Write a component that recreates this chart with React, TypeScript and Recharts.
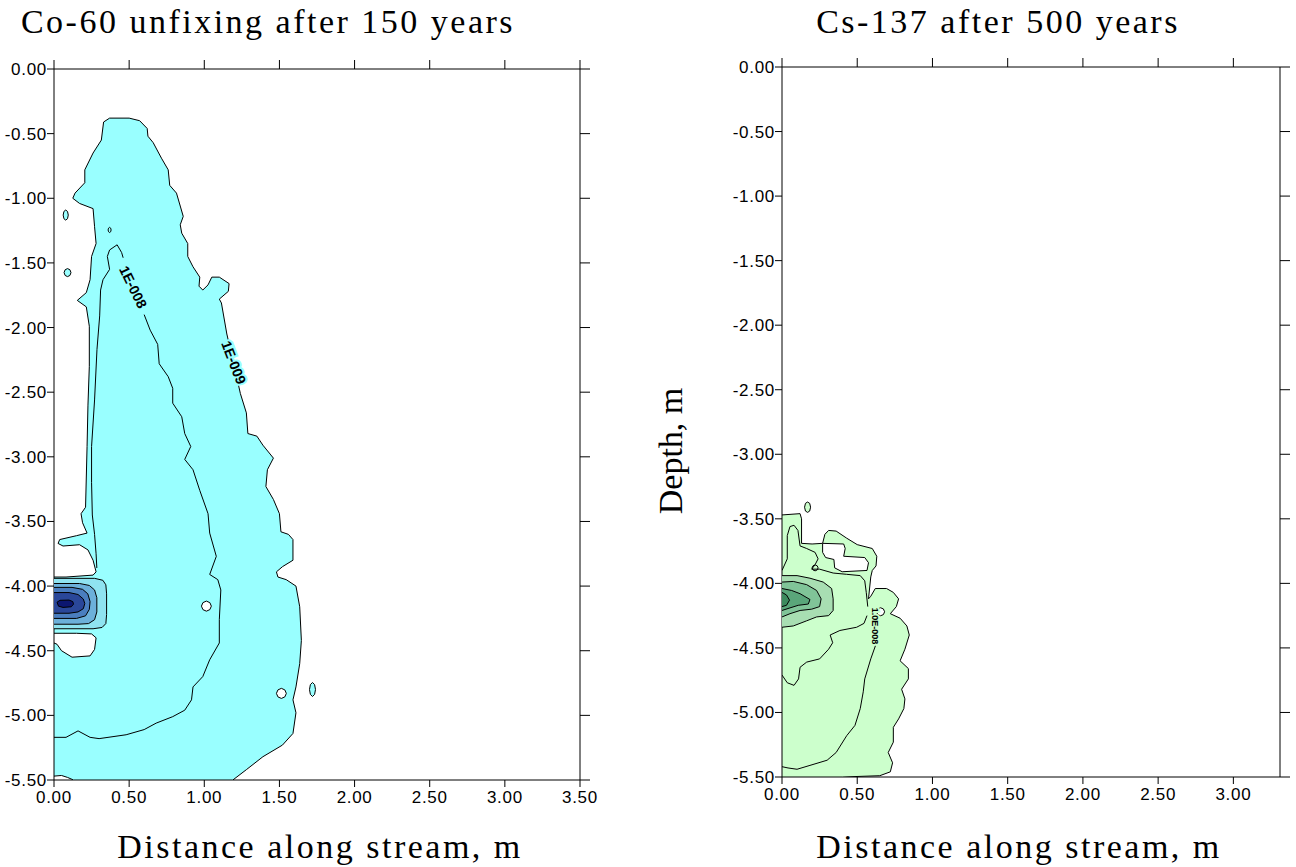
import React from 'react';
import { ScatterChart, Scatter, XAxis, YAxis } from 'recharts';

type Pt = [number, number];

// axes
const coXTicks = [0, 0.5, 1, 1.5, 2, 2.5, 3, 3.5];
const csXTicks = [0, 0.5, 1, 1.5, 2, 2.5, 3];
const depthTicks = [0, -0.5, -1, -1.5, -2, -2.5, -3, -3.5, -4, -4.5, -5, -5.5];

// Co-60: outer 1E-009 region (x = distance, y = depth)
const coPlume: Pt[] = [
  [0.37, -0.38], [0.33, -0.41], [0.315, -0.55], [0.26, -0.65], [0.205, -0.78], [0.205, -0.88],
  [0.14, -0.96], [0.125, -1.0], [0.17, -1.04], [0.26, -1.08], [0.27, -1.22], [0.28, -1.35],
  [0.25, -1.45], [0.24, -1.63], [0.215, -1.73], [0.155, -1.79], [0.215, -1.84], [0.235, -1.99],
  [0.235, -2.3], [0.226, -2.6], [0.22, -2.92], [0.21, -3.39], [0.18, -3.44], [0.19, -3.51],
  [0.22, -3.59], [0.15, -3.61], [0.038, -3.64], [0.027, -3.67], [0.06, -3.69], [0.17, -3.68],
  [0.226, -3.72], [0.26, -3.8], [0.28, -3.89], [0.26, -3.915], [0.08, -3.93], [0, -3.93],
  [0, -4.365], [0.15, -4.365], [0.25, -4.37], [0.28, -4.4], [0.27, -4.49], [0.24, -4.54],
  [0.12, -4.55], [0.05, -4.5], [0.02, -4.45], [0, -4.44],
  [0, -5.47], [0.05, -5.465], [0.09, -5.48], [0.13, -5.5], [1.19, -5.5],
  [1.28, -5.42], [1.39, -5.32], [1.52, -5.23], [1.59, -5.14], [1.61, -4.98], [1.59, -4.88],
  [1.61, -4.78], [1.635, -4.6], [1.646, -4.42], [1.635, -4.16], [1.61, -4.0], [1.545, -3.95],
  [1.49, -3.93], [1.48, -3.89], [1.52, -3.85], [1.59, -3.8], [1.59, -3.64], [1.56, -3.6],
  [1.51, -3.58], [1.5, -3.44], [1.46, -3.33], [1.41, -3.23], [1.42, -3.1], [1.46, -3.01],
  [1.39, -2.91], [1.35, -2.84], [1.29, -2.82], [1.28, -2.66], [1.24, -2.51], [1.2, -2.3],
  [1.15, -2.05], [1.114, -1.81], [1.1, -1.78], [1.16, -1.72], [1.165, -1.66], [1.1, -1.61],
  [1.05, -1.61], [1.025, -1.67], [0.99, -1.71], [0.965, -1.68], [0.97, -1.61], [0.925, -1.53],
  [0.89, -1.45], [0.89, -1.35], [0.85, -1.27], [0.84, -1.205], [0.86, -1.14], [0.84, -1.06],
  [0.815, -0.96], [0.77, -0.9], [0.76, -0.78], [0.715, -0.69], [0.66, -0.57], [0.625, -0.52],
  [0.62, -0.46], [0.57, -0.4], [0.5, -0.38], [0.37, -0.38],
];

// Co-60: 1E-008 contour, split where its label sits
const coLine8a: Pt[] = [
  [0.285, -3.86], [0.28, -3.75], [0.27, -3.6], [0.255, -3.45], [0.25, -3.2], [0.25, -2.92],
  [0.27, -2.56], [0.286, -2.17], [0.304, -1.91], [0.31, -1.71], [0.326, -1.63], [0.37, -1.55],
  [0.355, -1.45], [0.37, -1.4], [0.42, -1.36], [0.45, -1.42], [0.46, -1.46],
];
const coLine8b: Pt[] = [
  [0.6, -1.9], [0.64, -2.02], [0.69, -2.13], [0.7, -2.28], [0.76, -2.38], [0.79, -2.47],
  [0.79, -2.585], [0.85, -2.69], [0.87, -2.82], [0.91, -2.92], [0.87, -3.02], [0.925, -3.1],
  [0.97, -3.26], [1.025, -3.44], [1.036, -3.59], [1.08, -3.77], [1.036, -3.91], [1.09, -3.95],
  [1.11, -4.03], [1.1, -4.26], [1.1, -4.44], [1.036, -4.57], [0.99, -4.7], [0.925, -4.78],
  [0.915, -4.88], [0.87, -4.96], [0.79, -5.01], [0.68, -5.06], [0.6, -5.11], [0.48, -5.15],
  [0.3, -5.18], [0.24, -5.17], [0.16, -5.12], [0.08, -5.17], [0, -5.17],
];

// Co-60: peak near the source
const coLevel1: Pt[] = [
  [0, -3.94], [0.27, -3.94], [0.325, -3.955], [0.345, -3.99], [0.35, -4.06], [0.35, -4.22],
  [0.345, -4.29], [0.32, -4.32], [0.26, -4.33], [0, -4.33],
];
const coLevel2: Pt[] = [
  [0, -3.98], [0.17, -3.98], [0.235, -3.995], [0.27, -4.03], [0.285, -4.09], [0.285, -4.2],
  [0.27, -4.26], [0.23, -4.29], [0.16, -4.295], [0, -4.295],
];
const coLevel3: Pt[] = [
  [0, -4.01], [0.12, -4.01], [0.19, -4.025], [0.225, -4.06], [0.24, -4.12], [0.235, -4.18],
  [0.21, -4.23], [0.15, -4.25], [0, -4.25],
];
const coLevel4: Pt[] = [
  [0, -4.05], [0.1, -4.05], [0.16, -4.065], [0.195, -4.1], [0.205, -4.135], [0.195, -4.175],
  [0.16, -4.2], [0.1, -4.21], [0, -4.21],
];
const coLevel5: Pt[] = [
  [0.02, -4.125], [0.04, -4.11], [0.1, -4.108], [0.125, -4.12], [0.13, -4.14], [0.115, -4.16],
  [0.06, -4.165], [0.03, -4.155], [0.02, -4.125],
];

// Co-60: small holes and islands
const coHoleA: Pt[] = [
  [1.047, -4.155], [1.037, -4.128], [1.014, -4.116], [0.991, -4.128], [0.981, -4.155],
  [0.991, -4.182], [1.014, -4.194], [1.037, -4.182], [1.047, -4.155],
];
const coHoleB: Pt[] = [
  [1.546, -4.83], [1.536, -4.803], [1.513, -4.791], [1.49, -4.803], [1.48, -4.83],
  [1.49, -4.857], [1.513, -4.869], [1.536, -4.857], [1.546, -4.83],
];
const coIslandA: Pt[] = [
  [1.74, -4.8], [1.734, -4.762], [1.72, -4.746], [1.706, -4.762], [1.7, -4.8],
  [1.706, -4.838], [1.72, -4.854], [1.734, -4.838], [1.74, -4.8],
];
const coIslandB: Pt[] = [
  [0.095, -1.13], [0.09, -1.102], [0.078, -1.091], [0.066, -1.102], [0.061, -1.13],
  [0.066, -1.158], [0.078, -1.169], [0.09, -1.158], [0.095, -1.13],
];
const coIslandC: Pt[] = [
  [0.113, -1.575], [0.106, -1.553], [0.09, -1.544], [0.074, -1.553], [0.067, -1.575],
  [0.074, -1.597], [0.09, -1.606], [0.106, -1.597], [0.113, -1.575],
];
const coIslandD: Pt[] = [
  [0.38, -1.245], [0.377, -1.231], [0.37, -1.225], [0.363, -1.231], [0.36, -1.245],
  [0.363, -1.259], [0.37, -1.265], [0.377, -1.259], [0.38, -1.245],
];

const coLabel8: Pt = [0.527, -1.687];
const coLabel9: Pt = [1.196, -2.27];

// Cs-137: outer region
const csPlume: Pt[] = [
  [0, -3.47], [0.12, -3.46], [0.13, -3.5], [0.13, -3.69], [0.2, -3.695], [0.27, -3.69],
  [0.285, -3.62], [0.31, -3.59], [0.36, -3.595], [0.43, -3.65], [0.5, -3.7], [0.6, -3.73],
  [0.63, -3.79], [0.625, -3.865], [0.6, -3.9], [0.59, -3.95], [0.575, -4.12], [0.59, -4.1],
  [0.62, -4.04], [0.695, -4.04], [0.74, -4.07], [0.775, -4.12], [0.76, -4.18], [0.72, -4.235],
  [0.785, -4.27], [0.83, -4.33], [0.846, -4.4], [0.817, -4.51], [0.785, -4.6], [0.84, -4.66],
  [0.84, -4.74], [0.795, -4.82], [0.817, -4.895], [0.81, -4.97], [0.775, -5.05], [0.74, -5.115],
  [0.74, -5.23], [0.706, -5.31], [0.735, -5.39], [0.72, -5.46], [0.65, -5.49], [0.4, -5.5],
  [0, -5.5], [0, -3.47],
];
const csHole: Pt[] = [
  [0.27, -3.69], [0.41, -3.695], [0.42, -3.73], [0.41, -3.79], [0.55, -3.8], [0.575, -3.84],
  [0.565, -3.9], [0.4, -3.91], [0.35, -3.88], [0.345, -3.815], [0.29, -3.8], [0.27, -3.76],
  [0.27, -3.69],
];
const csSmallHole: Pt[] = [
  [0.682, -4.22], [0.674, -4.198], [0.655, -4.189], [0.636, -4.198], [0.628, -4.22],
  [0.636, -4.242], [0.655, -4.251], [0.674, -4.242], [0.682, -4.22],
];
const csLoop: Pt[] = [
  [0.24, -3.88], [0.234, -3.864], [0.22, -3.857], [0.206, -3.864], [0.2, -3.88],
  [0.206, -3.896], [0.22, -3.903], [0.234, -3.896], [0.24, -3.88],
];
const csIsland: Pt[] = [
  [0.19, -3.41], [0.184, -3.38], [0.17, -3.37], [0.156, -3.38], [0.15, -3.41],
  [0.156, -3.44], [0.17, -3.45], [0.184, -3.44], [0.19, -3.41],
];
const csLineA: Pt[] = [
  [0, -3.9], [0.035, -3.81], [0.035, -3.63], [0.053, -3.56], [0.08, -3.55], [0.106, -3.59],
  [0.12, -3.71], [0.164, -3.73], [0.22, -3.76], [0.24, -3.81], [0.22, -3.855], [0.197, -3.89],
  [0.25, -3.89], [0.34, -3.92], [0.43, -3.93], [0.52, -3.94], [0.55, -3.98], [0.56, -4.07],
  [0.57, -4.18],
];
const csLineB: Pt[] = [
  [0.625, -4.47], [0.59, -4.585], [0.55, -4.74], [0.54, -4.84], [0.52, -4.97], [0.485, -5.1],
  [0.43, -5.18], [0.36, -5.31], [0.3, -5.37], [0.186, -5.41], [0.1, -5.44], [0.04, -5.43],
  [0, -5.42],
];
const csLineC: Pt[] = [
  [0, -4.71], [0.035, -4.77], [0.08, -4.79], [0.11, -4.74], [0.12, -4.65], [0.164, -4.61],
  [0.25, -4.585], [0.31, -4.51], [0.337, -4.46], [0.32, -4.4], [0.385, -4.365], [0.496, -4.34],
  [0.545, -4.31], [0.565, -4.25],
];
const csLevel1: Pt[] = [
  [0, -3.94], [0.1, -3.94], [0.186, -3.96], [0.274, -3.99], [0.33, -4.04], [0.34, -4.12],
  [0.34, -4.21], [0.31, -4.25], [0.23, -4.26], [0.164, -4.29], [0.075, -4.33], [0, -4.34],
];
const csLevel2: Pt[] = [
  [0, -3.99], [0.075, -3.985], [0.164, -4.01], [0.23, -4.055], [0.26, -4.12], [0.25, -4.18],
  [0.197, -4.2], [0.12, -4.21], [0.053, -4.235], [0, -4.26],
];
const csLevel3: Pt[] = [
  [0, -4.04], [0.064, -4.055], [0.12, -4.08], [0.186, -4.125], [0.175, -4.16], [0.108, -4.17],
  [0.053, -4.19], [0, -4.21],
];
const csLevel4: Pt[] = [
  [0, -4.07], [0.03, -4.09], [0.05, -4.13], [0.03, -4.17], [0, -4.18],
];
const csLabel8: Pt = [0.618, -4.33];

const SANS = 'Liberation Sans, Arial, sans-serif';
const SERIF = 'Liberation Serif, Times New Roman, serif';
const CYAN = '#99ffff';
const MINT = '#ccffcc';

const toRows = (pts: Pt[]) => pts.map(([x, y]) => ({ x, y }));
const noDot = () => <g />;
const fmt = (v: number) => v.toFixed(2);
const tickStyle = { fill: '#000', fontSize: 17, fontFamily: SANS };

function region(key: string, pts: Pt[], fill: string, stroke = '#000') {
  return (
    <Scatter
      key={key}
      data={toRows(pts)}
      xAxisId="b"
      yAxisId="l"
      shape={noDot}
      line={{ fill, stroke, strokeWidth: 1 }}
      isAnimationActive={false}
      legendType="none"
    />
  );
}

function tag(key: string, at: Pt, text: string, angle: number, size: number, halo: string) {
  return (
    <Scatter
      key={key}
      data={toRows([at])}
      xAxisId="b"
      yAxisId="l"
      isAnimationActive={false}
      legendType="none"
      shape={(p: any) => (
        <text
          x={p.cx}
          y={p.cy}
          transform={`rotate(${angle} ${p.cx} ${p.cy})`}
          textAnchor="middle"
          dominantBaseline="central"
          fontSize={size}
          fontWeight="bold"
          fontFamily={SANS}
          fill="#000"
          stroke={halo}
          strokeWidth={4}
          paintOrder="stroke"
        >
          {text}
        </text>
      )}
    />
  );
}

function axes(xMax: number, xTicks: number[]) {
  return [
    <XAxis key="xb" xAxisId="b" type="number" dataKey="x" domain={[0, xMax]} ticks={xTicks}
      allowDataOverflow interval={0} tickFormatter={fmt} tick={tickStyle} tickSize={7}
      tickMargin={4} height={30} stroke="#000" />,
    <XAxis key="xt" xAxisId="t" orientation="top" type="number" dataKey="x" domain={[0, xMax]}
      ticks={xTicks} allowDataOverflow interval={0} tick={noDot} tickSize={9} height={9}
      stroke="#000" />,
    <YAxis key="yl" yAxisId="l" type="number" dataKey="y" domain={[-5.5, 0]} ticks={depthTicks}
      allowDataOverflow interval={0} tickFormatter={fmt} tick={tickStyle} tickSize={7}
      tickMargin={0} width={54} stroke="#000" />,
    <YAxis key="yr" yAxisId="r" orientation="right" type="number" dataKey="y" domain={[-5.5, 0]}
      ticks={depthTicks} allowDataOverflow interval={0} tick={noDot} tickSize={10} width={10}
      stroke="#000" />,
  ];
}

export default function App() {
  return (
    <div style={{ position: 'absolute', left: 0, top: 0, width: 1296, height: 867, background: '#fff' }}>
      <style>{'.recharts-cartesian-axis-tick-value{letter-spacing:0.7px}'}</style>
      <div style={{ position: 'absolute', left: 0, top: 0 }}>
        <ScatterChart width={640} height={867} margin={{ top: 60, right: 50, bottom: 57, left: 0 }}>
          {axes(3.5, coXTicks)}
          {region('plume', coPlume, CYAN)}
          {region('holeA', coHoleA, '#fff')}
          {region('holeB', coHoleB, '#fff')}
          {region('islA', coIslandA, CYAN)}
          {region('islB', coIslandB, CYAN)}
          {region('islC', coIslandC, CYAN)}
          {region('islD', coIslandD, CYAN)}
          {region('l1', coLevel1, '#8fe3f0')}
          {region('l2', coLevel2, '#6cb0da')}
          {region('l3', coLevel3, '#4a7ebf')}
          {region('l4', coLevel4, '#2a4799')}
          {region('l5', coLevel5, '#0c1670')}
          {region('c8a', coLine8a, 'none')}
          {region('c8b', coLine8b, 'none')}
          {tag('t8', coLabel8, '1E-008', 64, 14, CYAN)}
          {tag('t9', coLabel9, '1E-009', 69, 14, CYAN)}
        </ScatterChart>
      </div>
      <div style={{ position: 'absolute', left: 640, top: 0 }}>
        <ScatterChart width={656} height={867} margin={{ top: 58, right: 6, bottom: 60, left: 88 }}>
          {axes(3.31, csXTicks)}
          {region('plume', csPlume, MINT)}
          {region('hole', csHole, '#fff')}
          {region('small', csSmallHole, '#fff')}
          {region('isl', csIsland, MINT)}
          {region('h1', csLevel1, '#a8deb2')}
          {region('h2', csLevel2, '#80c498')}
          {region('h3', csLevel3, '#5aa67a')}
          {region('h4', csLevel4, '#3d8a5e')}
          {region('la', csLineA, 'none')}
          {region('lb', csLineB, 'none')}
          {region('lc', csLineC, 'none')}
          {region('loop', csLoop, 'none')}
          {tag('t8', csLabel8, '1.0E-008', 90, 9, MINT)}
        </ScatterChart>
      </div>
      <svg width={1296} height={867} style={{ position: 'absolute', left: 0, top: 0, pointerEvents: 'none' }}>
        <g fontFamily={SERIF} fill="#000" fontSize={34} letterSpacing={2.5} textAnchor="middle">
          <text x={268} y={33}>Co-60 unfixing after 150 years</text>
          <text x={998} y={33}>Cs-137 after 500 years</text>
          <text x={320} y={858}>Distance along stream, m</text>
          <text x={1019} y={858}>Distance along stream, m</text>
        </g>
        <text transform="translate(682 451) rotate(-90)" textAnchor="middle" fontFamily={SERIF}
          fontSize={34} fill="#000">Depth, m</text>
      </svg>
    </div>
  );
}
